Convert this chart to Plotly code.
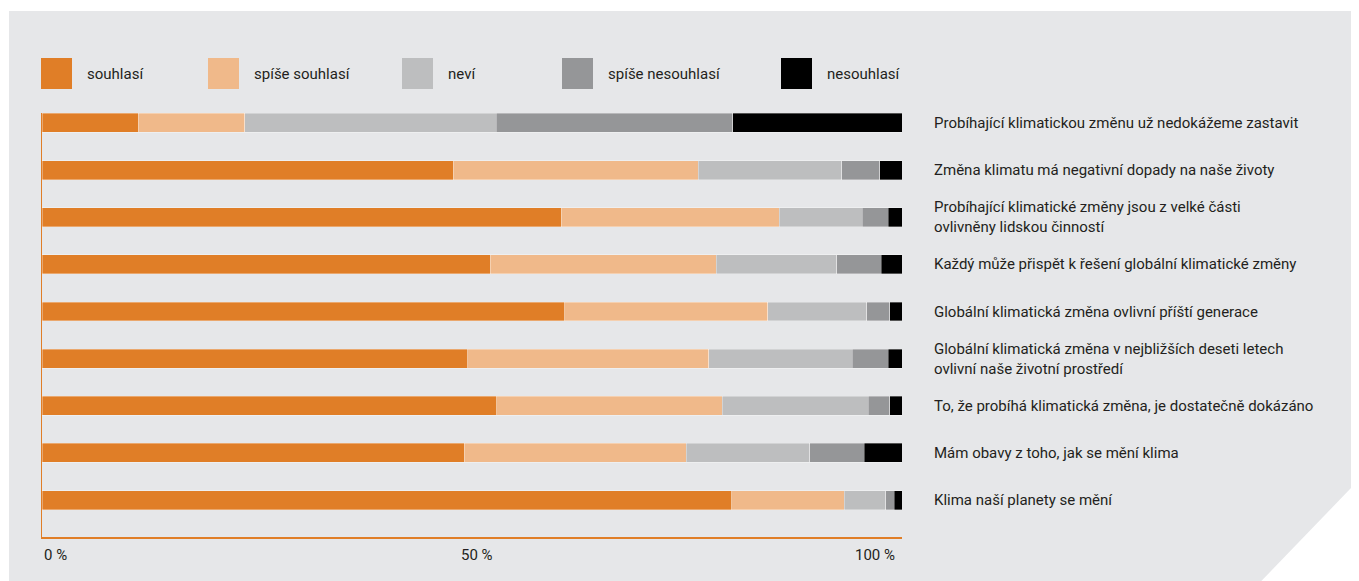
import plotly.graph_objects as go

categories = [
    "Probíhající klimatickou změnu už nedokážeme zastavit",
    "Změna klimatu má negativní dopady na naše životy",
    "Probíhající klimatické změny jsou z velké části<br>ovlivněny lidskou činností",
    "Každý může přispět k řešení globální klimatické změny",
    "Globální klimatická změna ovlivní příští generace",
    "Globální klimatická změna v nejbližších deseti letech<br>ovlivní naše životní prostředí",
    "To, že probíhá klimatická změna, je dostatečně dokázáno",
    "Mám obavy z toho, jak se mění klima",
    "Klima naší planety se mění",
]
series_names = ["souhlasí", "spíše souhlasí", "neví", "spíše nesouhlasí", "nesouhlasí"]
souhlasi = [11.2, 47.8, 60.4, 52.1, 60.8, 49.5, 52.9, 49.1, 80.2]
spise_souhlasi = [12.4, 28.5, 25.3, 26.3, 23.6, 28.0, 26.2, 25.8, 13.1]
nevi = [29.2, 16.7, 9.7, 14.0, 11.5, 16.7, 17.0, 14.4, 4.8]
spise_nesouhlasi = [27.5, 4.4, 3.0, 5.2, 2.7, 4.2, 2.5, 6.3, 1.0]
nesouhlasi = [19.7, 2.6, 1.6, 2.4, 1.4, 1.6, 1.4, 4.4, 0.9]
tick_values = [0, 50, 100]
tick_labels = ["0 %", "50 %", "100 %"]

series_values = [souhlasi, spise_souhlasi, nevi, spise_nesouhlasi, nesouhlasi]
colors = ["#e07e27", "#f0b98a", "#bdbebf", "#959698", "#000000"]

# page offset of the figure inside the html body
OFF = 8
W_PX, H_PX = 1359, 581
# desired plot area in page pixels
PX0, PX1, PY0, PY1 = 42, 902, 113, 537
L = PX0 - OFF
T = PY0 - OFF
R = W_PX - (PX1 - OFF)
B = H_PX - (PY1 - OFF)
PW = PX1 - PX0
PH = PY1 - PY0
FONT = "Roboto, Lato, Liberation Sans, sans-serif"
TEXT_COLOR = "#231f20"
FS = 15


def px_x(px):  # page pixel -> paper x
    return (px - PX0) / PW


def px_y(py):  # page pixel -> paper y
    return (PY1 - py) / PH


fig = go.Figure()
for name, vals, col in zip(series_names, series_values, colors):
    fig.add_trace(go.Bar(
        name=name, y=categories, x=vals, orientation="h",
        marker=dict(color=col, line=dict(color="rgba(255,255,255,0.55)", width=0.6)),
        width=0.403, showlegend=False, hoverinfo="x+name",
    ))

shapes = []
# background panel with cut corner (page pixel coordinates, extended beyond edges)
pts = [(9, 11), (1380, 11), (1380, 458), (1241, 602), (9, 602)]
path = "M " + " L ".join(f"{px_x(x):.5f},{px_y(y):.5f}" for x, y in pts) + " Z"
shapes.append(dict(type="path", xref="paper", yref="paper", path=path,
                   fillcolor="#e6e7e9", line=dict(width=0), layer="below"))

annotations = []
# legend
legend_left_px = [41, 208, 402, 562, 781]
sq = 31
leg_top = 58
for name, col, lx in zip(series_names, colors, legend_left_px):
    shapes.append(dict(type="rect", xref="paper", yref="paper",
                       x0=px_x(lx), x1=px_x(lx + sq), y0=px_y(leg_top + sq), y1=px_y(leg_top),
                       fillcolor=col, line=dict(width=0)))
    annotations.append(dict(xref="paper", yref="paper", x=px_x(lx + sq + 13), y=px_y(leg_top + sq / 2),
                            text=name, showarrow=False, xanchor="left", yanchor="middle",
                            font=dict(family=FONT, size=FS, color=TEXT_COLOR)))

# category labels on the right
for i, cat in enumerate(categories):
    annotations.append(dict(xref="paper", yref="y", x=px_x(932), y=i, text=cat,
                            showarrow=False, xanchor="left", yanchor="middle", align="left",
                            font=dict(family=FONT, size=FS, color=TEXT_COLOR)))

# x tick labels
anchors = ["left", "center", "right"]
shifts = [0, 0.6, -0.6]
for v, lab, anc, sh in zip(tick_values, tick_labels, anchors, shifts):
    annotations.append(dict(xref="x", yref="paper", x=v + sh, y=px_y(555), text=lab,
                            showarrow=False, xanchor=anc, yanchor="middle",
                            font=dict(family=FONT, size=FS, color=TEXT_COLOR)))

fig.update_layout(
    barmode="stack",
    width=W_PX, height=H_PX,
    margin=dict(l=L, r=R, t=T, b=B, pad=0),
    paper_bgcolor="white", plot_bgcolor="rgba(0,0,0,0)",
    shapes=shapes, annotations=annotations,
    font=dict(family=FONT, color=TEXT_COLOR),
    xaxis=dict(range=[0, 100], showgrid=False, zeroline=False, showticklabels=False,
               ticks="", showline=True, linecolor="#e07e27", linewidth=1.5, fixedrange=True),
    yaxis=dict(type="category", categoryorder="array", categoryarray=categories,
               range=[8.785, -0.212], showgrid=False, zeroline=False, showticklabels=False,
               ticks="", showline=True, linecolor="#e07e27", linewidth=1.2, fixedrange=True),
    bargap=0.6,
)

fig.write_html("out.html")
